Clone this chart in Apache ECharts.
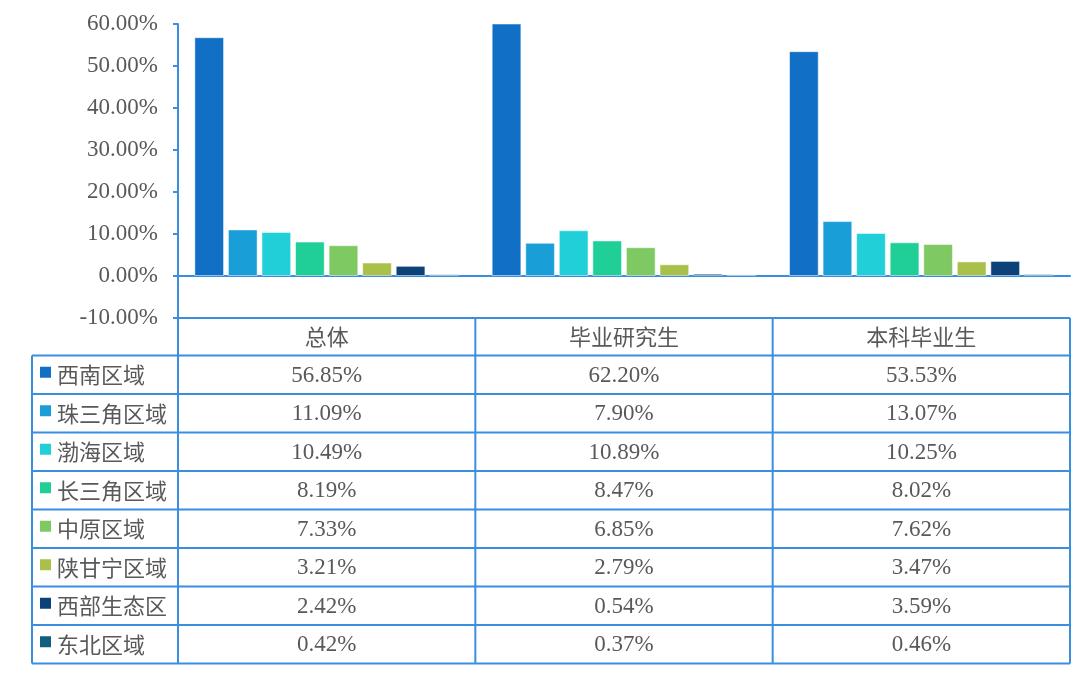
<!DOCTYPE html>
<html>
<head>
<meta charset="utf-8">
<script src="https://cdn.jsdelivr.net/npm/echarts@6/dist/echarts.min.js"></script>
<style>
html,body{margin:0;padding:0;background:#fff;}
#chart{width:1080px;height:678px;}
</style>
</head>
<body>
<div id="chart"></div>
<script>
// ---- data ----
const categories = ['总体', '毕业研究生', '本科毕业生'];
const regionNames = ['西南区域', '珠三角区域', '渤海区域', '长三角区域', '中原区域', '陕甘宁区域', '西部生态区', '东北区域'];
const xinan = [56.85, 62.20, 53.53];
const zhusanjiao = [11.09, 7.90, 13.07];
const bohai = [10.49, 10.89, 10.25];
const changsanjiao = [8.19, 8.47, 8.02];
const zhongyuan = [7.33, 6.85, 7.62];
const shanganning = [3.21, 2.79, 3.47];
const xibu = [2.42, 0.54, 3.59];
const dongbei = [0.42, 0.37, 0.46];
const yMin = -10, yMax = 60, yStep = 10;

const seriesData = [xinan, zhusanjiao, bohai, changsanjiao, zhongyuan, shanganning, xibu, dongbei];
const colors = ['#1170C6', '#1A9ED8', '#20CFD8', '#20CF98', '#7EC962', '#A9C04A', '#0D4278', '#0F607F'];

const lineColor = '#3A8EE0';
const textColor = '#595959';
const numFont = '"Liberation Serif", "Times New Roman", serif';
const cjkFont = '"Noto Sans CJK SC", sans-serif';

const chart = echarts.init(document.getElementById('chart'));
const option = {
  animation: false,
  backgroundColor: '#fff',
  color: colors,
  grid: { left: 178, right: 10, top: 24, bottom: 360, containLabel: false },
  xAxis: {
    type: 'category',
    data: categories,
    axisLine: { onZero: true, lineStyle: { color: lineColor, width: 2 } },
    axisTick: { show: false },
    axisLabel: { show: false },
    splitLine: { show: false }
  },
  yAxis: {
    type: 'value',
    min: yMin, max: yMax, interval: yStep,
    axisLine: { show: true, lineStyle: { color: lineColor, width: 2 } },
    axisTick: { show: true, inside: false, length: 5, lineStyle: { color: lineColor, width: 2 } },
    splitLine: { show: false },
    axisLabel: {
      color: textColor, fontFamily: numFont, fontSize: 23, margin: 20,
      padding: [4, 0, 0, 0],
      formatter: v => v.toFixed(2) + '%'
    }
  },
  series: regionNames.map((name, i) => ({
    name: name,
    type: 'bar',
    data: seriesData[i],
    barGap: '13%',
    barCategoryGap: '11%',
    clip: true,
    itemStyle: { color: colors[i], borderColor: 'rgba(255,255,255,0.5)', borderWidth: 1 }
  }))
};
chart.setOption(option);

// ---- data table drawn below the axis, aligned to the category axis ----
function buildTable() {
  const x0 = chart.convertToPixel({ xAxisIndex: 0 }, 0);
  const x1 = chart.convertToPixel({ xAxisIndex: 0 }, 1);
  const band = x1 - x0;
  const left = x0 - band / 2;
  const right = left + band * categories.length;
  const top = chart.convertToPixel({ yAxisIndex: 0 }, yMin);
  const headerH = 37.5;
  const rowH = 38.5;
  const labelLeft = 32;
  const bodyTop = top + headerH;
  const bottom = bodyTop + rowH * regionNames.length;
  const els = [];
  const ln = (xa, ya, xb, yb) => els.push({
    type: 'line', silent: true,
    shape: { x1: xa, y1: ya, x2: xb, y2: yb },
    style: { stroke: lineColor, lineWidth: 2 }
  });
  // horizontal lines
  ln(left, top, right, top);
  for (let r = 0; r <= regionNames.length; r++) {
    const y = bodyTop + r * rowH;
    ln(labelLeft, y, right, y);
  }
  // vertical lines
  ln(labelLeft, bodyTop, labelLeft, bottom);
  for (let c = 0; c <= categories.length; c++) {
    const x = left + c * band;
    ln(x, top, x, bottom);
  }
  // header
  categories.forEach((cat, c) => {
    els.push({
      type: 'text', silent: true,
      style: { text: cat, x: left + (c + 0.5) * band, y: top + headerH / 2,
        align: 'center', verticalAlign: 'middle', fill: textColor,
        font: '22px ' + cjkFont }
    });
  });
  // rows
  regionNames.forEach((name, r) => {
    const yc = bodyTop + (r + 0.5) * rowH;
    els.push({
      type: 'rect', silent: true,
      shape: { x: 40, y: yc - 8, width: 11, height: 11 },
      style: { fill: colors[r] }
    });
    els.push({
      type: 'text', silent: true,
      style: { text: name, x: 57, y: yc, align: 'left', verticalAlign: 'middle',
        fill: textColor, font: '22px ' + cjkFont }
    });
    seriesData[r].forEach((v, c) => {
      els.push({
        type: 'text', silent: true,
        style: { text: v.toFixed(2) + '%', x: left + (c + 0.5) * band, y: yc + 1,
          align: 'center', verticalAlign: 'middle', fill: textColor,
          font: '23px ' + numFont }
      });
    });
  });
  chart.setOption({ graphic: { elements: els } });
}
buildTable();
</script>
</body>
</html>
